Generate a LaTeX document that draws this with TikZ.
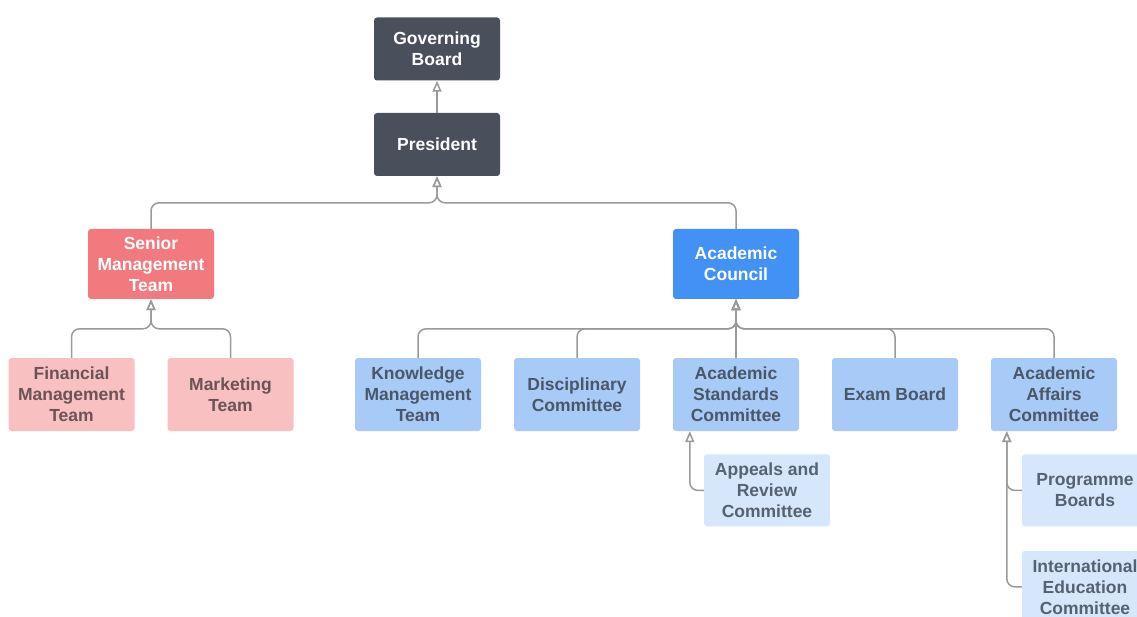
\documentclass[tikz,border=0pt]{standalone}
\usepackage{fontspec}
\setmainfont{Liberation Sans}
\usetikzlibrary{arrows.meta,positioning,trees}
\definecolor{boardgray}{HTML}{4A505B}
\definecolor{seniorred}{HTML}{F27A7E}
\definecolor{councilblue}{HTML}{4291F5}
\definecolor{teampink}{HTML}{F9C0C1}
\definecolor{teamblue}{HTML}{A7CAF7}
\definecolor{subblue}{HTML}{D6E7FB}
\definecolor{pinktext}{HTML}{6B5356}
\definecolor{bluetext}{HTML}{4A5768}
\definecolor{subtext}{HTML}{566271}
\definecolor{linegray}{HTML}{9A9A9A}

\begin{document}
\begin{tikzpicture}[
	x=1pt, y=1pt,
	font=\fontsize{17.5}{21}\selectfont\bfseries,
	grow=down,
	every node/.style={rectangle, rounded corners=3pt, align=center, minimum width=126pt, inner sep=2pt},
	link/.style={draw=linegray, line width=1.5pt, rounded corners=8pt, -{Triangle[open,length=11pt,width=9pt]}},
	edge from parent/.style={link},
	level 1/.style={level distance=95.5pt,
		edge from parent path={(\tikzchildnode.north) -- (\tikzparentnode.south)}},
	level 2/.style={grow via three points={one child at (6.5,-119.5) and two children at (-286,-119.5) and (299,-119.5)},
		edge from parent path={(\tikzchildnode.north) -- ++(0,26) -| (\tikzparentnode.south)}},
	level 3/.style={grow via three points={one child at (0,-130.5) and two children at (-79.5,-130.5) and (79.5,-130.5)},
		edge from parent path={(\tikzchildnode.north) -- ++(0,29) -| (\tikzparentnode.south)}},
	dk/.style={fill=boardgray, text=white, minimum height=63pt},
	rd/.style={fill=seniorred, text=white, minimum height=70pt},
	cb/.style={fill=councilblue, text=white, minimum height=70pt},
	pk/.style={fill=teampink, text=pinktext, minimum height=73pt},
	bl/.style={fill=teamblue, text=bluetext, minimum height=73pt},
	sb/.style={fill=subblue, text=subtext, minimum height=72pt},
	]
\useasboundingbox (0,0) rectangle (1137,-617);
\node [dk] (gb) at (437,-49) {Governing\\Board}
	child { node [dk] (pres) {President}
		child { node [rd] (smt) {Senior\\Management\\Team}
			child { node [pk] (fmt) {Financial\\Management\\Team} }
			child { node [pk] (mkt) {Marketing\\Team} }
		}
		child { node [cb] (ac) {Academic\\Council}
			child { node [bl] (kmt) {Knowledge\\Management\\Team} }
			child { node [bl] (dis) {Disciplinary\\Committee} }
			child { node [bl] (std) {Academic\\Standards\\Committee} }
			child { node [bl] (exb) {Exam Board} }
			child { node [bl] (aff) {Academic\\Affairs\\Committee} }
		}
	}
;
% side committees
\node [sb, below=23pt of std, xshift=31pt] (apl) {Appeals and\\Review\\Committee};
\node [sb, below=23pt of aff, xshift=31pt] (pgb) {Programme\\Boards};
\node [sb, below=24pt of pgb] (ied) {International\\Education\\Committee};
\draw [link] (apl.west) -| ([xshift=17pt]std.south west);
\draw [link] (ied.west) -| ([xshift=16pt]aff.south west);
\draw [link] (pgb.west) -| ([xshift=16pt]aff.south west);
\end{tikzpicture}
\end{document}
